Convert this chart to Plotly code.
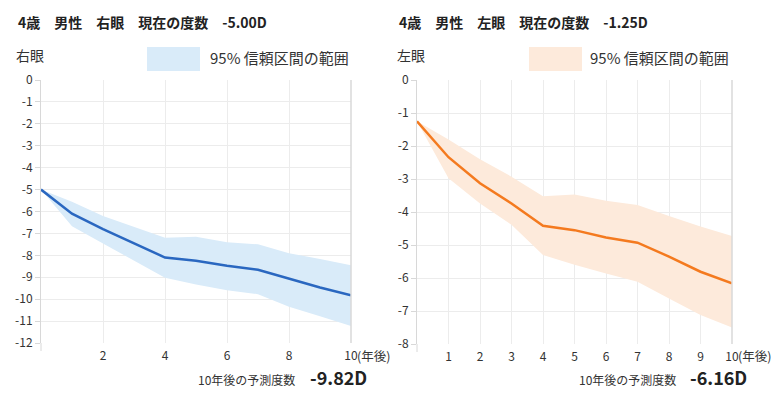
import plotly.graph_objects as go

years = [0, 1, 2, 3, 4, 5, 6, 7, 8, 9, 10]

right_pred = [-5.0, -6.1, -6.8, -7.45, -8.1, -8.25, -8.48, -8.66, -9.05, -9.47, -9.82]
right_upper = [-5.0, -5.56, -6.2, -6.7, -7.2, -7.15, -7.4, -7.5, -7.9, -8.17, -8.45]
right_lower = [-5.0, -6.67, -7.46, -8.25, -9.02, -9.33, -9.59, -9.77, -10.35, -10.78, -11.23]

left_pred = [-1.25, -2.34, -3.13, -3.74, -4.42, -4.55, -4.77, -4.93, -5.35, -5.81, -6.16]
left_upper = [-1.25, -1.8, -2.4, -2.93, -3.52, -3.47, -3.66, -3.79, -4.12, -4.44, -4.73]
left_lower = [-1.25, -2.98, -3.74, -4.39, -5.3, -5.6, -5.86, -6.11, -6.62, -7.12, -7.5]

right_yticks = [0, -1, -2, -3, -4, -5, -6, -7, -8, -9, -10, -11, -12]
left_yticks = [0, -1, -2, -3, -4, -5, -6, -7, -8]
right_xticks = [2, 4, 6, 8, 10]
left_xticks = [1, 2, 3, 4, 5, 6, 7, 8, 9, 10]

right_title = "4歳　男性　右眼　現在の度数　-5.00D"
left_title = "4歳　男性　左眼　現在の度数　-1.25D"
right_label = "右眼"
left_label = "左眼"
legend_text = "95% 信頼区間の範囲"
future_label = "10年後の予測度数"
right_future = "-9.82D"
left_future = "-6.16D"
unit_label = "(年後)"

FONT = "Noto Sans CJK JP"
BLUE = "#2a67c0"
BLUE_BAND = "#d9ebf9"
ORANGE = "#f47a1f"
ORANGE_BAND = "#fdeadb"
GRID = "#ececec"
AXIS = "#d8d8d8"
TXT = "#333333"

fig = go.Figure()

def add_panel(xa, ya, upper, lower, pred, color, band):
    fig.add_trace(go.Scatter(x=years, y=upper, mode="lines", line=dict(width=0, color=band),
                             xaxis=xa, yaxis=ya, showlegend=False, hoverinfo="skip"))
    fig.add_trace(go.Scatter(x=years, y=lower, mode="lines", line=dict(width=0, color=band),
                             fill="tonexty", fillcolor=band,
                             xaxis=xa, yaxis=ya, showlegend=False, hoverinfo="skip"))
    fig.add_trace(go.Scatter(x=years, y=pred, mode="lines", line=dict(width=2.5, color=color),
                             xaxis=xa, yaxis=ya, showlegend=False))

add_panel("x", "y", right_upper, right_lower, right_pred, BLUE, BLUE_BAND)
add_panel("x2", "y2", left_upper, left_lower, left_pred, ORANGE, ORANGE_BAND)

# the page body has an 8px margin; the figure is sized to fill the rest
OFF = 8
W, H = 780 - OFF, 399 - OFF
def px(xp):
    return (xp - OFF) / W
def py(yp):
    return 1 - (yp - OFF) / H

common_x = dict(range=[0, 10], showgrid=True, gridcolor=GRID, gridwidth=1, zeroline=False,
                showline=False, ticks="", ticklabelstandoff=4,
                tickfont=dict(family=FONT, size=12, color=TXT),
                fixedrange=True, automargin=False)
common_y = dict(showgrid=True, gridcolor=GRID, gridwidth=1, zeroline=False,
                showline=True, linecolor=AXIS, linewidth=1,
                ticks="outside", ticklen=5, tickcolor=AXIS,
                tickfont=dict(family=FONT, size=12, color=TXT), fixedrange=True, automargin=False)

fig.update_layout(
    width=W, height=H, margin=dict(l=0, r=0, t=0, b=0, autoexpand=False),
    paper_bgcolor="white", plot_bgcolor="white",
    xaxis=dict(common_x, domain=[px(41), px(351)], anchor="y",
               tickmode="array", tickvals=right_xticks, ticktext=[str(v) for v in right_xticks]),
    yaxis=dict(common_y, domain=[py(343), py(80)], anchor="x", range=[-12, 0],
               tickmode="array", tickvals=right_yticks, ticktext=[str(v) for v in right_yticks]),
    xaxis2=dict(common_x, domain=[px(417), px(732)], anchor="y2",
                tickmode="array", tickvals=left_xticks, ticktext=[str(v) for v in left_xticks]),
    yaxis2=dict(common_y, domain=[py(344), py(80)], anchor="x2", range=[-8, 0],
                tickmode="array", tickvals=left_yticks, ticktext=[str(v) for v in left_yticks]),
    font=dict(family=FONT, color=TXT),
)

shapes = []
for xr, yr in (("x", "y"), ("x2", "y2")):
    shapes.append(dict(type="line", xref=xr + " domain", yref=yr + " domain", x0=1, x1=1, y0=0, y1=1,
                       line=dict(color=AXIS, width=1.5)))
shapes.append(dict(type="line", xref="paper", yref="paper", x0=px(41), x1=px(41), y0=py(343), y1=py(351),
                   line=dict(color=AXIS, width=1)))
shapes.append(dict(type="line", xref="paper", yref="paper", x0=px(417), x1=px(417), y0=py(344), y1=py(352),
                   line=dict(color=AXIS, width=1)))
shapes.append(dict(type="rect", xref="paper", yref="paper", x0=px(147), x1=px(200), y0=py(71), y1=py(47),
                   fillcolor=BLUE_BAND, line=dict(width=0)))
shapes.append(dict(type="rect", xref="paper", yref="paper", x0=px(529), x1=px(582), y0=py(71), y1=py(47),
                   fillcolor=ORANGE_BAND, line=dict(width=0)))
fig.update_layout(shapes=shapes)

ann = []
def text(x, y, s, size, bold=False, anchor="left", color=TXT):
    ann.append(dict(xref="paper", yref="paper", x=px(x), y=py(y), text=("<b>%s</b>" % s) if bold else s,
                    showarrow=False, xanchor=anchor, yanchor="middle",
                    font=dict(family=FONT, size=size, color=color)))

text(16, 22, right_title, 14, bold=True, color="#222")
text(397, 22, left_title, 14, bold=True, color="#222")
text(14, 55, right_label, 14)
text(395, 55, left_label, 14)
text(208, 58, legend_text, 15)
text(588, 58, legend_text, 15)
text(355, 355, unit_label, 12.5)
text(736, 355, unit_label, 12.5)
text(196, 379, future_label, 12)
text(577, 379, future_label, 12)
text(308, 377, right_future, 18, bold=True, color="#222")
text(688, 377, left_future, 18, bold=True, color="#222")
fig.update_layout(annotations=ann)

fig.write_html("out.html")
